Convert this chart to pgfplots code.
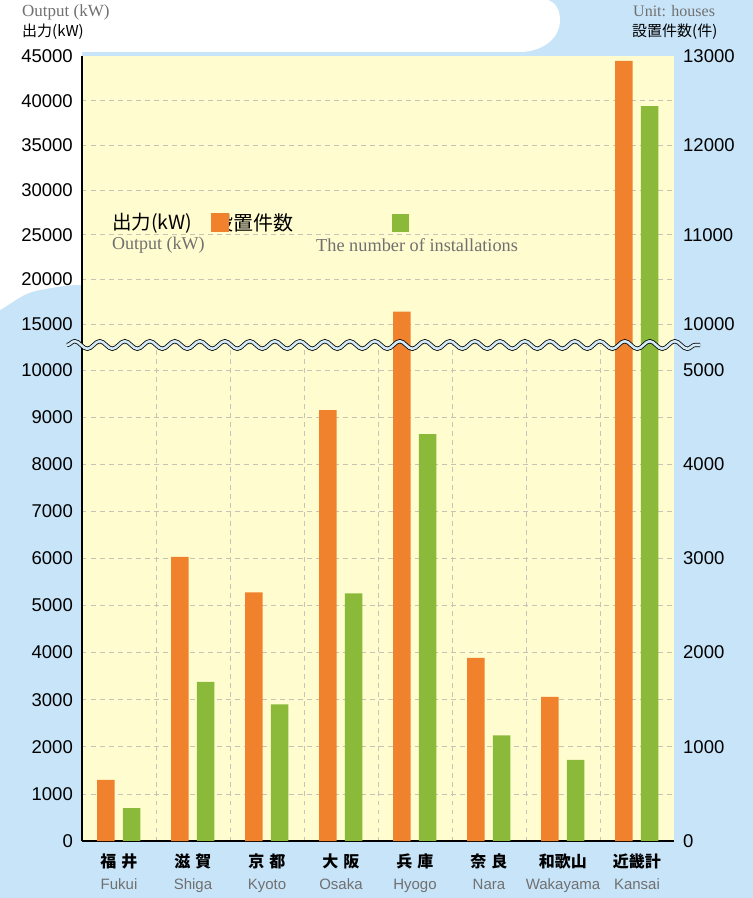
\documentclass[border=0pt]{standalone}
\usepackage{pgfplots}
\usepackage{pgfplotstable}
\pgfplotsset{compat=1.18}
\usepackage{fontspec}
\usetikzlibrary{decorations.pathmorphing}
\setmainfont{Liberation Sans}
\newfontfamily\serf{Liberation Serif}
\newfontfamily\jp{Noto Sans CJK JP}
\definecolor{bgblue}{HTML}{C8E4F8}
\definecolor{ybg}{HTML}{FFFCCF}
\definecolor{orC}{HTML}{F0822D}
\definecolor{grC}{HTML}{8BBA3A}
\definecolor{gridc}{HTML}{C8C3B4}
\definecolor{txtgray}{HTML}{707070}
\definecolor{wavebl}{HTML}{D2EAF8}
\newcommand{\tickf}{\fontsize{18.5}{21}\selectfont}
\newcommand{\xl}[2]{{\jp\bfseries\fontsize{16}{18}\selectfont\rule[-6pt]{0pt}{22pt}#1}\\{\color{txtgray}\fontsize{15}{17}\selectfont\rule[-5pt]{0pt}{20pt}#2}}

\pgfplotstableread{
x out inst
0 1300 350
1 6030 1690
2 5280 1450
3 9150 2630
4 16380 4320
5 3890 1120
6 3060 860
7 44450 12440
}\datatab

\pgfplotsset{
  base/.style={scale only axis, width=592pt, xmin=-0.5, xmax=7.5,
    major tick length=0pt, minor tick length=0pt,
    /pgf/number format/1000 sep={}, /pgf/number format/assume math mode=true,
    scaled y ticks=false},
  leftax/.style={base, axis y line*=left, y axis line style={-, line width=2pt},
    axis background/.style={fill=ybg},
    ymajorgrids, xminorgrids, minor xtick={0.5,1.5,...,6.5},
    major grid style={gridc, dash pattern=on 4.5pt off 4.5pt, line width=0.8pt},
    minor grid style={gridc, dash pattern=on 4.5pt off 4.5pt, line width=0.8pt},
    yticklabel style={font=\tickf, anchor=east, inner sep=0pt, xshift=-9pt}},
  rightax/.style={base, axis x line=none, axis y line*=right, y axis line style={draw=none},
    yticklabel style={font=\tickf, anchor=west, inner sep=0pt, xshift=9pt}},
  obar/.style={ybar, bar width=17.5pt, bar shift=-13pt, fill=orC, draw=none},
  gbar/.style={ybar, bar width=17.5pt, bar shift=12.6pt, fill=grC, draw=none},
}

\begin{document}
\begin{tikzpicture}
\fill[bgblue] (0pt,0pt) rectangle (753pt,898pt);
\fill[white] (0pt,898pt) -- (548pt,898pt) to[out=-20,in=90] (560pt,878pt) to[out=-90,in=0] (520pt,846pt) -- (82pt,846pt) -- (82pt,613pt) to[out=180,in=10] (40pt,608pt) to[out=190,in=30] (0pt,588pt) -- cycle;

% lower part
\begin{axis}[leftax, at={(82pt,57pt)}, anchor=south west, height=496pt,
  ymin=0, ymax=10531, ytick={0,1000,...,10000},
  axis x line*=bottom, x axis line style={-, line width=2pt},
  xtick={0,...,7},
  xticklabels={{\xl{福\hspace{5pt}井}{Fukui}},{\xl{滋\hspace{5pt}賀}{Shiga}},{\xl{京\hspace{5pt}都}{Kyoto}},{\xl{大\hspace{5pt}阪}{Osaka}},{\xl{兵\hspace{5pt}庫}{Hyogo}},{\xl{奈\hspace{5pt}良}{Nara}},{\xl{和歌山}{Wakayama}},{\xl{近畿計}{Kansai}}},
  xticklabel style={align=center, anchor=north, inner sep=0pt, yshift=-10pt}]
\addplot[obar] table[x=x, y=out] {\datatab};
\end{axis}
\begin{axis}[rightax, at={(82pt,57pt)}, anchor=south west, height=496pt,
  ymin=0, ymax=5265.5, ytick={0,1000,...,5000}]
\addplot[gbar] table[x=x, y=inst] {\datatab};
\end{axis}

% upper part
\begin{axis}[leftax, at={(82pt,553pt)}, anchor=south west, height=289pt,
  ymin=12649, ymax=45000, ytick={15000,20000,...,40000},
  extra y ticks={45000}, extra y tick style={grid=none},
  axis x line*=bottom, x axis line style={draw=none}, xtick=\empty]
\addplot[obar] table[x=x, y=out] {\datatab};
\end{axis}
\begin{axis}[rightax, at={(82pt,553pt)}, anchor=south west, height=289pt,
  ymin=9765, ymax=13000, ytick={10000,11000,12000,13000}]
\addplot[gbar] table[x=x, y=inst] {\datatab};
\end{axis}

% break
\draw[decorate, decoration={snake, amplitude=3.8pt, segment length=25pt}, line width=0.8pt, double=wavebl, double distance=2.6pt] (67pt,553pt) -- (700pt,553pt);

% titles
\node[anchor=west, inner sep=0pt, text=txtgray, font=\serf\fontsize{17}{19}\selectfont] at (22pt,886pt) {Output (kW)};
\node[anchor=west, inner sep=0pt, font=\jp\fontsize{15}{17}\selectfont] at (22pt,866pt) {出力(kW)};
\node[anchor=west, inner sep=0pt, text=txtgray, font=\serf\fontsize{16}{18}\selectfont] at (633pt,887pt) {Unit: houses};
\node[anchor=west, inner sep=0pt, font=\jp\fontsize{15}{17}\selectfont] at (632pt,866pt) {設置件数(件)};

% legend
\node[anchor=west, inner sep=0pt, font=\jp\fontsize{19.5}{21}\selectfont] at (112pt,675pt) {出力(kW)};
\node[anchor=west, inner sep=0pt, font=\jp\fontsize{20}{22}\selectfont] at (213pt,675pt) {設置件数};
\fill[orC] (211pt,666pt) rectangle (229pt,685pt);
\fill[grC] (392pt,666pt) rectangle (409pt,684pt);
\node[anchor=west, inner sep=0pt, text=txtgray, font=\serf\fontsize{18}{20}\selectfont] at (112pt,653pt) {Output (kW)};
\node[anchor=west, inner sep=0pt, text=txtgray, font=\serf\fontsize{18.3}{20}\selectfont] at (316pt,653pt) {The number of installations};
\end{tikzpicture}
\end{document}
